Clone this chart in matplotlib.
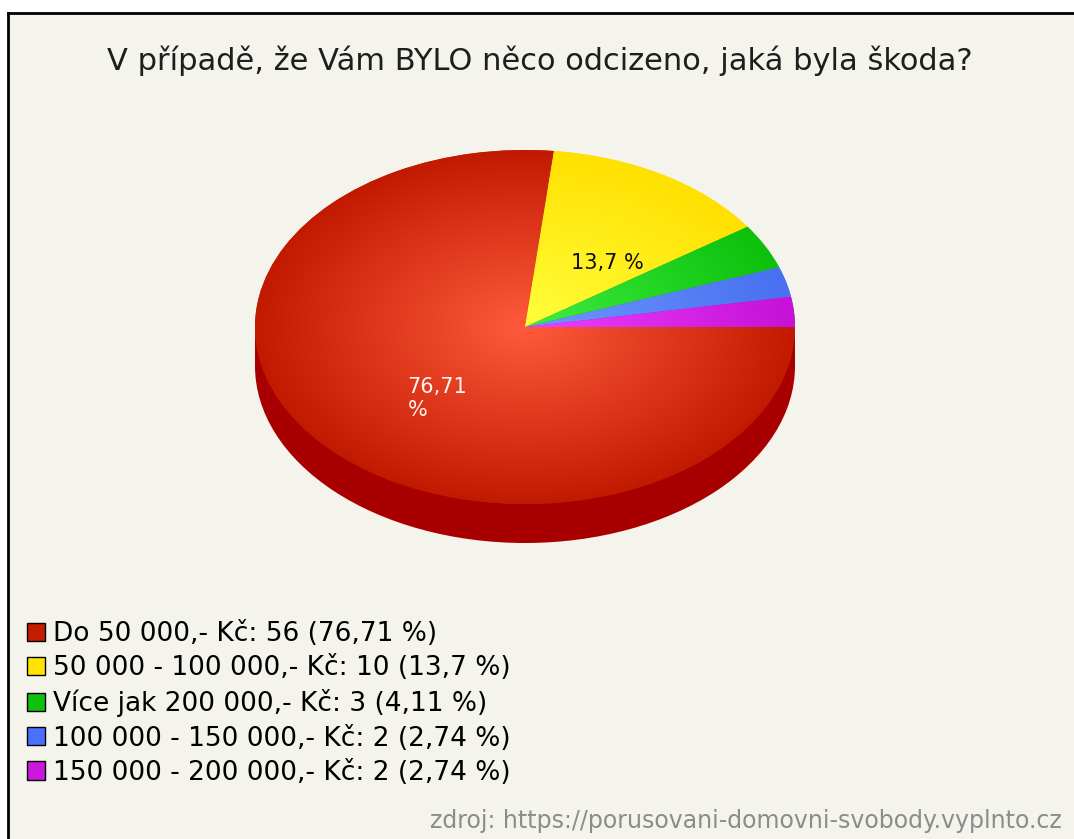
import numpy as np
import matplotlib
matplotlib.use("Agg")
import matplotlib.pyplot as plt
from matplotlib.patches import Rectangle, Ellipse, Patch
from matplotlib.lines import Line2D

# ---- data ----
title = "V případě, že Vám BYLO něco odcizeno, jaká byla škoda?"
categories = ["Do 50 000,- Kč", "50 000 - 100 000,- Kč", "Více jak 200 000,- Kč",
              "100 000 - 150 000,- Kč", "150 000 - 200 000,- Kč"]
counts = [56, 10, 3, 2, 2]
percent_text = ["76,71", "13,7", "4,11", "2,74", "2,74"]
pie_labels = ["76,71\n%", "13,7 %", "", "", ""]
source = "zdroj: https://porusovani-domovni-svobody.vyplnto.cz"

# ---- styles ----
inner_colors = ["#ff5a3c", "#ffff3c", "#40ee40", "#6c98ff", "#ee40ff"]
outer_colors = ["#c21a00", "#ffe000", "#0cc00c", "#4870f0", "#c412d6"]
legend_colors = ["#c41c00", "#ffe400", "#10c010", "#4a70ff", "#cc18dc"]
label_colors = ["#fff4f0", "#111111", "#111111", "#111111", "#111111"]
side_color = "#a80000"
bg = "#f4f3ec"
FONT = "DejaVu Sans"

W, H = 1074, 839
fig = plt.figure(figsize=(W / 100, H / 100), dpi=100)
fig.patch.set_facecolor("white")
fig.patches.append(Rectangle((8 / W, 0), 1, 1 - 13 / H, transform=fig.transFigure,
                             facecolor=bg, edgecolor="none", zorder=-10))
fig.lines.append(Line2D([8 / W, 8 / W], [0, 1 - 13 / H], transform=fig.transFigure,
                        color="black", lw=2.0, solid_capstyle="projecting"))
fig.lines.append(Line2D([8 / W, 1], [1 - 13 / H, 1 - 13 / H], transform=fig.transFigure,
                        color="black", lw=2.0, solid_capstyle="projecting"))

fig.text(540 / W, 1 - 61 / H, title, ha="center", va="center",
         fontsize=22, family=FONT, color="#1e1e1e")

# ---- pie ----
rx, ry, depth = 270, 177, 39
cx, cy = 525, 327
ax = fig.add_axes([(cx - rx) / W, (H - (cy + ry + depth)) / H,
                   2 * rx / W, (2 * ry + depth) / H])
d = depth / ry
ax.add_patch(Ellipse((0, -d), 2, 2, facecolor=side_color, edgecolor="none", zorder=0))
ax.add_patch(Rectangle((-1, -d), 2, d, facecolor=side_color, edgecolor="none", zorder=0))

wedges, _ = ax.pie(counts, startangle=0, counterclock=False, radius=1,
                   colors=outer_colors, wedgeprops=dict(linewidth=0))

yy, xx = np.mgrid[-1:1:500j, -1:1:500j]
rr = np.clip(np.hypot(xx, yy), 0, 1)[..., None]
for w, c0, c1 in zip(wedges, inner_colors, outer_colors):
    a = np.array(matplotlib.colors.to_rgb(c0))
    b = np.array(matplotlib.colors.to_rgb(c1))
    img = a * (1 - rr) + b * rr
    im = ax.imshow(img, extent=(-1, 1, -1, 1), origin="lower", aspect="auto",
                   interpolation="bilinear", zorder=2)
    im.set_clip_path(w)

for w, lab, col in zip(wedges, pie_labels, label_colors):
    if not lab:
        continue
    mid = np.deg2rad((w.theta1 + w.theta2) / 2)
    ax.annotate(lab, xy=(0.5 * np.cos(mid), 0.5 * np.sin(mid)),
                xytext=(13, -12), textcoords="offset pixels",
                ha="center", va="center", multialignment="left",
                color=col, fontsize=15, family=FONT, zorder=5)

ax.set_aspect("auto")
ax.set_xlim(-1, 1)
ax.set_ylim(-1 - d, 1)
ax.axis("off")

# ---- legend ----
handles = [Patch(facecolor=c, edgecolor="black", linewidth=1.0) for c in legend_colors]
labels = [f"{cat}: {n} ({p} %)" for cat, n, p in zip(categories, counts, percent_text)]
fig.legend(handles, labels, loc="upper left", bbox_to_anchor=(27 / W, 1 - 621 / H),
           frameon=False, prop=dict(family=FONT, size=19), handlelength=0.68,
           handleheight=0.68, handletextpad=0.3, labelspacing=0.31, borderaxespad=0,
           borderpad=0)

fig.text(1062 / W, 1 - 821 / H, source, ha="right", va="center", color="#8c8c8c",
         fontsize=17, family=FONT)

fig.savefig("out.png", dpi=100, facecolor=fig.get_facecolor())
